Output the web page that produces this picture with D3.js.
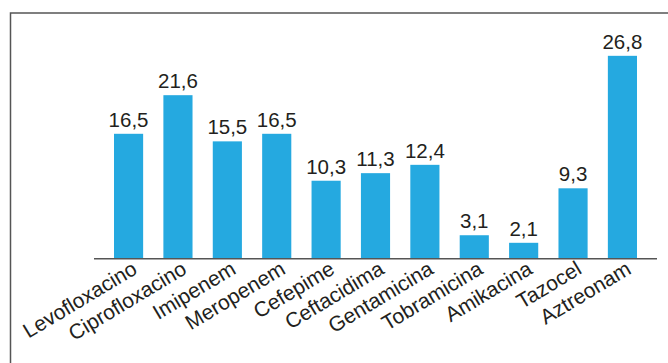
<!DOCTYPE html>
<html>
<head>
<meta charset="utf-8">
<script src="https://cdn.jsdelivr.net/npm/d3@7"></script>
<style>
  body { margin: 0; background: #fff; }
  svg { display: block; font-family: 'Liberation Sans', Arial, sans-serif; }
</style>
</head>
<body>
<div id="chart"></div>
<script>
const categories = ['Levofloxacino', 'Ciprofloxacino', 'Imipenem', 'Meropenem', 'Cefepime',
  'Ceftacidima', 'Gentamicina', 'Tobramicina', 'Amikacina', 'Tazocel', 'Aztreonam']
const values = [16.5, 21.6, 15.5, 16.5, 10.3, 11.3, 12.4, 3.1, 2.1, 9.3, 26.8]

const width = 668
const height = 363
const baseline = 258.7
const BAR_COLOR = '#25a9e0'
const TEXT_COLOR = '#231f20'

const data = categories.map((c, i) => ({ name: c, value: values[i] }))

const svg = d3.select('#chart')
  .append('svg')
  .attr('width', width)
  .attr('height', height)

// frame (left + top only)
svg.append('path')
  .attr('d', `M10.5,${height} V13 H${width}`)
  .attr('fill', 'none')
  .attr('stroke', '#555')
  .attr('stroke-width', 1.5)

const x = d3.scaleBand()
  .domain(categories)
  .range([94, 657])
  .paddingInner(0.41)
  .paddingOuter(0.405)

const y = d3.scaleLinear()
  .domain([0, 30])
  .range([baseline, baseline - 30 * 7.57])

svg.append('g')
  .selectAll('rect')
  .data(data)
  .join('rect')
  .attr('x', d => x(d.name))
  .attr('y', d => y(d.value))
  .attr('width', x.bandwidth())
  .attr('height', d => y(0) - y(d.value))
  .attr('fill', BAR_COLOR)

svg.append('g')
  .selectAll('text')
  .data(data)
  .join('text')
  .attr('x', d => x(d.name) + x.bandwidth() / 2)
  .attr('y', d => y(d.value) - 7)
  .attr('text-anchor', 'middle')
  .attr('font-size', '20.5px')
  .attr('fill', TEXT_COLOR)
  .text(d => String(d.value).replace('.', ','))

// baseline
svg.append('line')
  .attr('x1', 94)
  .attr('x2', 657)
  .attr('y1', baseline)
  .attr('y2', baseline)
  .attr('stroke', '#555')
  .attr('stroke-width', 1.5)

// rotated category labels
svg.append('g')
  .selectAll('text')
  .data(data)
  .join('text')
  .attr('transform', d => `translate(${x(d.name) + x.bandwidth() / 2 + 10},${baseline + 14}) rotate(-31)`)
  .attr('text-anchor', 'end')
  .attr('font-size', '21px')
  .attr('fill', TEXT_COLOR)
  .text(d => d.name)
</script>
</body>
</html>
